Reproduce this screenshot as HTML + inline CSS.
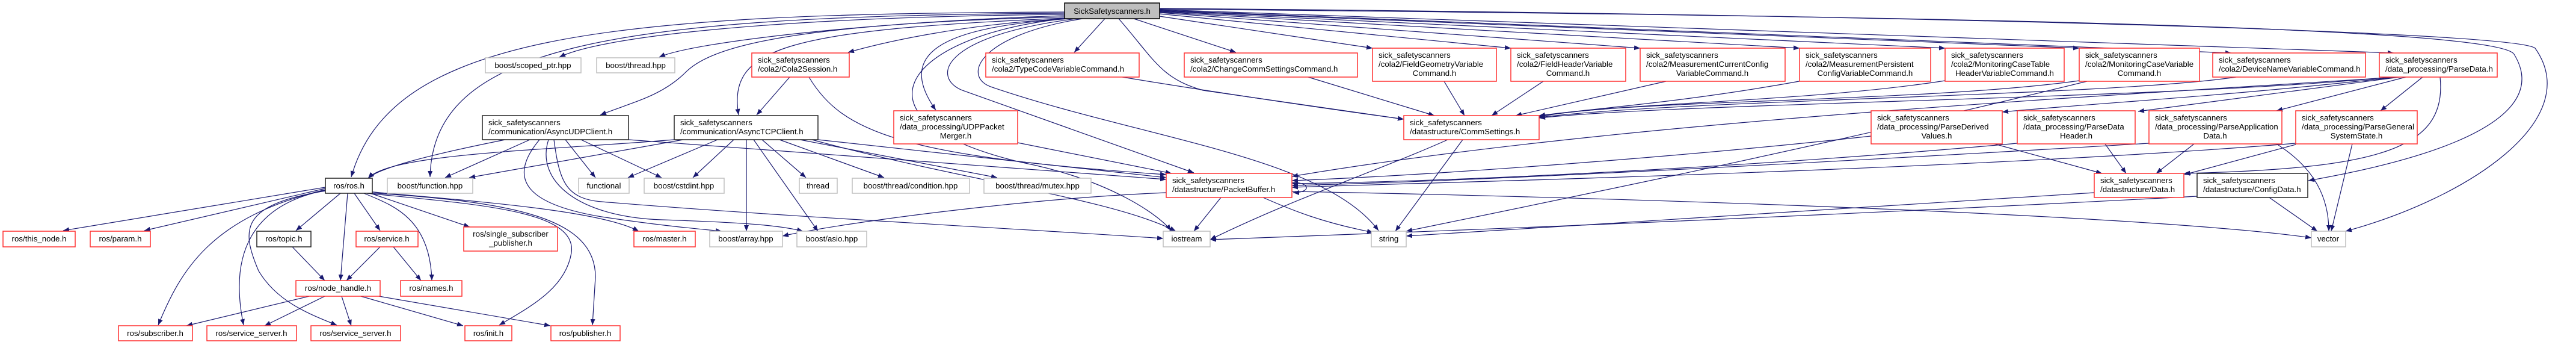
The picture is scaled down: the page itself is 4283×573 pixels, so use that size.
<!DOCTYPE html>
<html><head><meta charset="utf-8"><style>
html,body{margin:0;padding:0;background:#fff;width:4283px;height:573px;overflow:hidden}
svg{display:block}
text{font-family:"Liberation Sans",Arial,sans-serif;font-size:13.3px;fill:#000}
.e{fill:none;stroke:#191970;stroke-width:1.2;marker-end:url(#a)}
.r{fill:#fff;stroke:#ff3030;stroke-width:1.5}
.k{fill:#fff;stroke:#222;stroke-width:1.5}
.g{fill:#fff;stroke:#bfbfbf;stroke-width:1.5}
</style></head><body>
<svg width="4283" height="573" viewBox="0 0 4283 573" xmlns="http://www.w3.org/2000/svg">
<defs><marker id="a" viewBox="0 0 10 8" refX="10" refY="4" markerWidth="10" markerHeight="8" markerUnits="userSpaceOnUse" orient="auto"><path d="M0,0 L10,4 L0,8 z" fill="#191970"/></marker></defs>
<g>
<!-- top node edges -->
<path class="e" d="M1770,20 C1000,22 650,60 584,294"/>
<path class="e" d="M1770,22 C1000,26 720,80 715,294"/>
<path class="e" d="M1770,24 C1300,28 1000,60 930,95"/>
<path class="e" d="M1770,26 C1450,36 1150,70 1096,95"/>
<path class="e" d="M1770,28 C1300,40 1180,80 1140,120 S1050,170 998,191"/>
<path class="e" d="M1772,30 C1300,50 1210,80 1228,191"/>
<path class="e" d="M1775,31 C1600,40 1470,70 1410,87"/>
<path class="e" d="M1780,31 C1560,45 1490,90 1556,183"/>
<path class="e" d="M1790,31 C1560,60 1550,130 1600,150 L1985,287"/>
<path class="e" d="M1800,31 C1620,60 1600,130 1650,145 C1900,230 2200,260 2292,383"/>
<path class="e" d="M1770,31 C1500,60 1400,200 1700,270 C1850,300 1930,360 1947,383"/>
<path class="e" d="M1837,31 L1786,87"/>
<path class="e" d="M1885,31 L2055,87"/>
<path class="e" d="M1860,31 C1920,100 1930,130 2000,150 L2334,198"/>
<path class="e" d="M1928,27 L2282,80"/>
<path class="e" d="M1928,23 L2512,80"/>
<path class="e" d="M1928,21 L2727,80"/>
<path class="e" d="M1928,20 L2992,80"/>
<path class="e" d="M1928,19 L3234,80"/>
<path class="e" d="M1928,18 L3457,80"/>
<path class="e" d="M1928,17 L3710,88"/>
<path class="e" d="M1928,16 L3980,88"/>
<path class="e" d="M1928,15 C3000,25 4150,40 4180,90 C4260,220 3950,280 3838,300"/>
<path class="e" d="M1928,14 C3000,22 4180,50 4215,80 C4300,200 4100,330 3900,384"/>
<!-- AsyncUDP -->
<path class="e" d="M840,232 C700,260 630,280 612,296"/>
<path class="e" d="M881,232 L740,295"/>
<path class="e" d="M940,232 L990,295"/>
<path class="e" d="M966,232 L1100,295"/>
<path class="e" d="M897,232 C840,300 880,340 1000,360 C1100,375 1160,380 1200,384"/>
<path class="e" d="M912,232 C890,300 960,360 1100,365 C1250,370 1300,375 1335,384"/>
<path class="e" d="M921,232 C930,300 940,330 1000,335 C1300,360 1700,380 1934,396"/>
<path class="e" d="M1045,232 C1400,260 1700,280 1939,298"/>
<!-- AsyncTCP -->
<path class="e" d="M1121,232 C900,250 650,255 612,296"/>
<path class="e" d="M1136,232 L780,295"/>
<path class="e" d="M1193,232 L1044,295"/>
<path class="e" d="M1220,232 L1152,295"/>
<path class="e" d="M1241,232 L1241,384"/>
<path class="e" d="M1253,232 L1360,384"/>
<path class="e" d="M1267,232 L1340,295"/>
<path class="e" d="M1296,232 L1470,295"/>
<path class="e" d="M1330,232 L1658,295"/>
<path class="e" d="M1360,232 L1939,295"/>
<path class="e" d="M1350,232 C1600,300 1850,330 1955,384"/>
<!-- Cola2Session / merger -->
<path class="e" d="M1313,128 L1258,191"/>
<path class="e" d="M1345,128 C1400,220 1500,260 1939,290"/>
<path class="e" d="M1692,237 L1948,288"/>
<!-- ros.h -->
<path class="e" d="M541,311 L105,383"/>
<path class="e" d="M541,313 L240,383"/>
<path class="e" d="M566,321 L492,383"/>
<path class="e" d="M589,321 L632,383"/>
<path class="e" d="M578,321 L566,466"/>
<path class="e" d="M605,321 C650,340 715,360 718,466"/>
<path class="e" d="M541,315 C350,360 300,450 263,540"/>
<path class="e" d="M541,316 C420,340 380,420 405,540"/>
<path class="e" d="M541,317 C400,340 400,380 430,450 C460,500 510,520 560,540"/>
<path class="e" d="M610,321 C800,340 960,350 950,420 C940,480 880,510 830,540"/>
<path class="e" d="M610,320 C850,335 990,360 990,460 L985,540"/>
<path class="e" d="M610,319 L781,377"/>
<path class="e" d="M610,318 C800,335 1000,350 1062,384"/>
<path class="e" d="M486,410 L540,466"/>
<path class="e" d="M632,410 L576,466"/>
<path class="e" d="M654,410 L700,466"/>
<path class="e" d="M514,492 L310,541"/>
<path class="e" d="M540,492 L440,541"/>
<path class="e" d="M568,492 L584,541"/>
<path class="e" d="M600,492 L770,541"/>
<path class="e" d="M630,492 L915,541"/>
<!-- CommSettings -->
<path class="e" d="M2432,232 L2320,384"/>
<path class="e" d="M2407,232 C2300,280 2150,330 2012,398"/>
<path class="e" d="M1866,128 C2000,150 2200,180 2334,198"/>
<path class="e" d="M2175,128 L2385,192"/>
<path class="e" d="M2401,135 L2435,192"/>
<path class="e" d="M2566,135 L2480,192"/>
<path class="e" d="M2770,135 L2520,192"/>
<path class="e" d="M2997,134 C2800,170 2650,180 2559,192"/>
<path class="e" d="M3234,134 C3000,170 2700,170 2559,193"/>
<path class="e" d="M3457,134 C3200,170 2700,165 2559,194"/>
<path class="e" d="M3718,128 C3500,160 2800,165 2559,195"/>
<path class="e" d="M3470,135 C3000,250 2600,330 2338,384"/>
<!-- PacketBuffer -->
<path class="e" d="M2030,328 L1985,384"/>
<path class="e" d="M2100,328 C2150,350 2200,370 2283,386"/>
<path class="e" d="M1939,320 C1700,330 1400,370 1301,392"/>
<path class="e" d="M2148,318 C2800,330 3600,360 3843,395"/>
<path class="e" d="M2148,303 C2180,303 2180,320 2150,320"/>
<path class="e" d="M3985,128 C3500,160 2700,200 2148,293"/>
<path class="e" d="M3111,226 C2800,260 2400,290 2148,300"/>
<path class="e" d="M3354,238 C3000,270 2500,300 2148,305"/>
<path class="e" d="M3573,238 C3200,260 2500,300 2148,308"/>
<path class="e" d="M3817,238 C3300,280 2500,300 2148,311"/>
<!-- ParseData etc -->
<path class="e" d="M3985,128 C3700,160 3500,170 3329,186"/>
<path class="e" d="M3990,128 L3555,185"/>
<path class="e" d="M4000,128 L3785,184"/>
<path class="e" d="M4028,128 L3958,184"/>
<path class="e" d="M4057,128 C4070,250 3950,280 3631,288"/>
<path class="e" d="M3975,128 C3600,165 2800,170 2559,196"/>
<path class="e" d="M3316,239 L3495,288"/>
<path class="e" d="M3500,239 L3535,288"/>
<path class="e" d="M3648,239 L3585,288"/>
<path class="e" d="M3785,239 C3850,280 3872,330 3872,384"/>
<path class="e" d="M3817,240 L3632,290"/>
<path class="e" d="M3911,239 L3876,384"/>
<path class="e" d="M3773,328 L3853,384"/>
<path class="e" d="M3653,326 C3000,360 2500,380 2012,398"/>
<path class="e" d="M3482,320 C3000,350 2700,370 2338,392"/>
</g>
<g>
<!-- top -->
<rect x="1770" y="5" width="158" height="26" fill="#bfbfbf" stroke="#000" stroke-width="1.5"/>
<text x="1849" y="23" text-anchor="middle">SickSafetyscanners.h</text>
<!-- row 88-128 two-line -->
<rect class="r" x="1250" y="88" width="162" height="40"/><text x="1260" y="104">sick_safetyscanners</text><text x="1260" y="119">/cola2/Cola2Session.h</text>
<rect class="r" x="1639" y="88" width="255" height="40"/><text x="1649" y="104">sick_safetyscanners</text><text x="1649" y="119">/cola2/TypeCodeVariableCommand.h</text>
<rect class="r" x="1969" y="88" width="288" height="40"/><text x="1979" y="104">sick_safetyscanners</text><text x="1979" y="119">/cola2/ChangeCommSettingsCommand.h</text>
<rect class="r" x="3679" y="88" width="254" height="40"/><text x="3689" y="104">sick_safetyscanners</text><text x="3689" y="119">/cola2/DeviceNameVariableCommand.h</text>
<rect class="r" x="3956" y="88" width="196" height="40"/><text x="3966" y="104">sick_safetyscanners</text><text x="3966" y="119">/data_processing/ParseData.h</text>
<!-- row 80-135 three-line -->
<rect class="r" x="2282" y="80" width="206" height="55"/><text x="2292" y="96">sick_safetyscanners</text><text x="2292" y="111">/cola2/FieldGeometryVariable</text><text x="2385" y="126" text-anchor="middle">Command.h</text>
<rect class="r" x="2512" y="80" width="191" height="55"/><text x="2522" y="96">sick_safetyscanners</text><text x="2522" y="111">/cola2/FieldHeaderVariable</text><text x="2607" y="126" text-anchor="middle">Command.h</text>
<rect class="r" x="2727" y="80" width="241" height="55"/><text x="2737" y="96">sick_safetyscanners</text><text x="2737" y="111">/cola2/MeasurementCurrentConfig</text><text x="2847" y="126" text-anchor="middle">VariableCommand.h</text>
<rect class="r" x="2992" y="80" width="218" height="55"/><text x="3002" y="96">sick_safetyscanners</text><text x="3002" y="111">/cola2/MeasurementPersistent</text><text x="3101" y="126" text-anchor="middle">ConfigVariableCommand.h</text>
<rect class="r" x="3234" y="80" width="198" height="55"/><text x="3244" y="96">sick_safetyscanners</text><text x="3244" y="111">/cola2/MonitoringCaseTable</text><text x="3333" y="126" text-anchor="middle">HeaderVariableCommand.h</text>
<rect class="r" x="3457" y="80" width="200" height="55"/><text x="3467" y="96">sick_safetyscanners</text><text x="3467" y="111">/cola2/MonitoringCaseVariable</text><text x="3557" y="126" text-anchor="middle">Command.h</text>
<!-- gray row 96-120 -->
<rect class="g" x="807" y="96" width="159" height="25"/><text x="886" y="113" text-anchor="middle">boost/scoped_ptr.hpp</text>
<rect class="g" x="992" y="96" width="130" height="25"/><text x="1057" y="113" text-anchor="middle">boost/thread.hpp</text>
<!-- row 192-232 -->
<rect class="k" x="802" y="192" width="243" height="40"/><text x="812" y="208">sick_safetyscanners</text><text x="812" y="223">/communication/AsyncUDPClient.h</text>
<rect class="k" x="1121" y="192" width="239" height="40"/><text x="1131" y="208">sick_safetyscanners</text><text x="1131" y="223">/communication/AsyncTCPClient.h</text>
<rect class="r" x="2334" y="192" width="225" height="40"/><text x="2344" y="208">sick_safetyscanners</text><text x="2344" y="223">/datastructure/CommSettings.h</text>
<!-- row 184-239 -->
<rect class="r" x="1486" y="184" width="206" height="55"/><text x="1496" y="200">sick_safetyscanners</text><text x="1496" y="215">/data_processing/UDPPacket</text><text x="1589" y="230" text-anchor="middle">Merger.h</text>
<rect class="r" x="3111" y="184" width="218" height="55"/><text x="3121" y="200">sick_safetyscanners</text><text x="3121" y="215">/data_processing/ParseDerived</text><text x="3220" y="230" text-anchor="middle">Values.h</text>
<rect class="r" x="3354" y="184" width="196" height="55"/><text x="3364" y="200">sick_safetyscanners</text><text x="3364" y="215">/data_processing/ParseData</text><text x="3452" y="230" text-anchor="middle">Header.h</text>
<rect class="r" x="3573" y="184" width="221" height="55"/><text x="3583" y="200">sick_safetyscanners</text><text x="3583" y="215">/data_processing/ParseApplication</text><text x="3683" y="230" text-anchor="middle">Data.h</text>
<rect class="r" x="3817" y="184" width="202" height="55"/><text x="3827" y="200">sick_safetyscanners</text><text x="3827" y="215">/data_processing/ParseGeneral</text><text x="3918" y="230" text-anchor="middle">SystemState.h</text>
<!-- row 296-321 -->
<rect class="k" x="541" y="296" width="78" height="25"/><text x="580" y="313" text-anchor="middle">ros/ros.h</text>
<rect class="g" x="644" y="296" width="142" height="25"/><text x="715" y="313" text-anchor="middle">boost/function.hpp</text>
<rect class="g" x="962" y="296" width="84" height="25"/><text x="1004" y="313" text-anchor="middle">functional</text>
<rect class="g" x="1071" y="296" width="133" height="25"/><text x="1137" y="313" text-anchor="middle">boost/cstdint.hpp</text>
<rect class="g" x="1329" y="296" width="63" height="25"/><text x="1360" y="313" text-anchor="middle">thread</text>
<rect class="g" x="1417" y="296" width="195" height="25"/><text x="1514" y="313" text-anchor="middle">boost/thread/condition.hpp</text>
<rect class="g" x="1636" y="296" width="178" height="25"/><text x="1725" y="313" text-anchor="middle">boost/thread/mutex.hpp</text>
<!-- row 288-328 -->
<rect class="r" x="1939" y="288" width="209" height="40"/><text x="1949" y="304">sick_safetyscanners</text><text x="1949" y="319">/datastructure/PacketBuffer.h</text>
<rect class="r" x="3482" y="288" width="149" height="40"/><text x="3492" y="304">sick_safetyscanners</text><text x="3492" y="319">/datastructure/Data.h</text>
<rect class="k" x="3653" y="288" width="184" height="40"/><text x="3663" y="304">sick_safetyscanners</text><text x="3663" y="319">/datastructure/ConfigData.h</text>
<!-- row 384-410 -->
<rect class="r" x="5" y="384" width="120" height="26"/><text x="65" y="401" text-anchor="middle">ros/this_node.h</text>
<rect class="r" x="150" y="384" width="100" height="26"/><text x="200" y="401" text-anchor="middle">ros/param.h</text>
<rect class="k" x="427" y="384" width="90" height="26"/><text x="472" y="401" text-anchor="middle">ros/topic.h</text>
<rect class="r" x="592" y="384" width="103" height="26"/><text x="643" y="401" text-anchor="middle">ros/service.h</text>
<rect class="r" x="771" y="377" width="156" height="40"/><text x="849" y="393" text-anchor="middle">ros/single_subscriber</text><text x="849" y="408" text-anchor="middle">_publisher.h</text>
<rect class="r" x="1054" y="384" width="102" height="26"/><text x="1105" y="401" text-anchor="middle">ros/master.h</text>
<rect class="g" x="1180" y="384" width="121" height="26"/><text x="1240" y="401" text-anchor="middle">boost/array.hpp</text>
<rect class="g" x="1325" y="384" width="116" height="26"/><text x="1383" y="401" text-anchor="middle">boost/asio.hpp</text>
<rect class="g" x="1934" y="384" width="78" height="26"/><text x="1973" y="401" text-anchor="middle">iostream</text>
<rect class="g" x="2280" y="384" width="58" height="26"/><text x="2309" y="401" text-anchor="middle">string</text>
<rect class="g" x="3843" y="384" width="57" height="26"/><text x="3871" y="401" text-anchor="middle">vector</text>
<!-- row 466-492 -->
<rect class="r" x="492" y="466" width="140" height="26"/><text x="562" y="483" text-anchor="middle">ros/node_handle.h</text>
<rect class="r" x="666" y="466" width="102" height="26"/><text x="717" y="483" text-anchor="middle">ros/names.h</text>
<!-- row 541-566 -->
<rect class="r" x="197" y="541" width="123" height="25"/><text x="258" y="558" text-anchor="middle">ros/subscriber.h</text>
<rect class="r" x="344" y="541" width="149" height="25"/><text x="418" y="558" text-anchor="middle">ros/service_server.h</text>
<rect class="r" x="517" y="541" width="149" height="25"/><text x="591" y="558" text-anchor="middle">ros/service_server.h</text>
<rect class="r" x="773" y="541" width="78" height="25"/><text x="812" y="558" text-anchor="middle">ros/init.h</text>
<rect class="r" x="916" y="541" width="115" height="25"/><text x="973" y="558" text-anchor="middle">ros/publisher.h</text>
</g>
</svg>
</body></html>
